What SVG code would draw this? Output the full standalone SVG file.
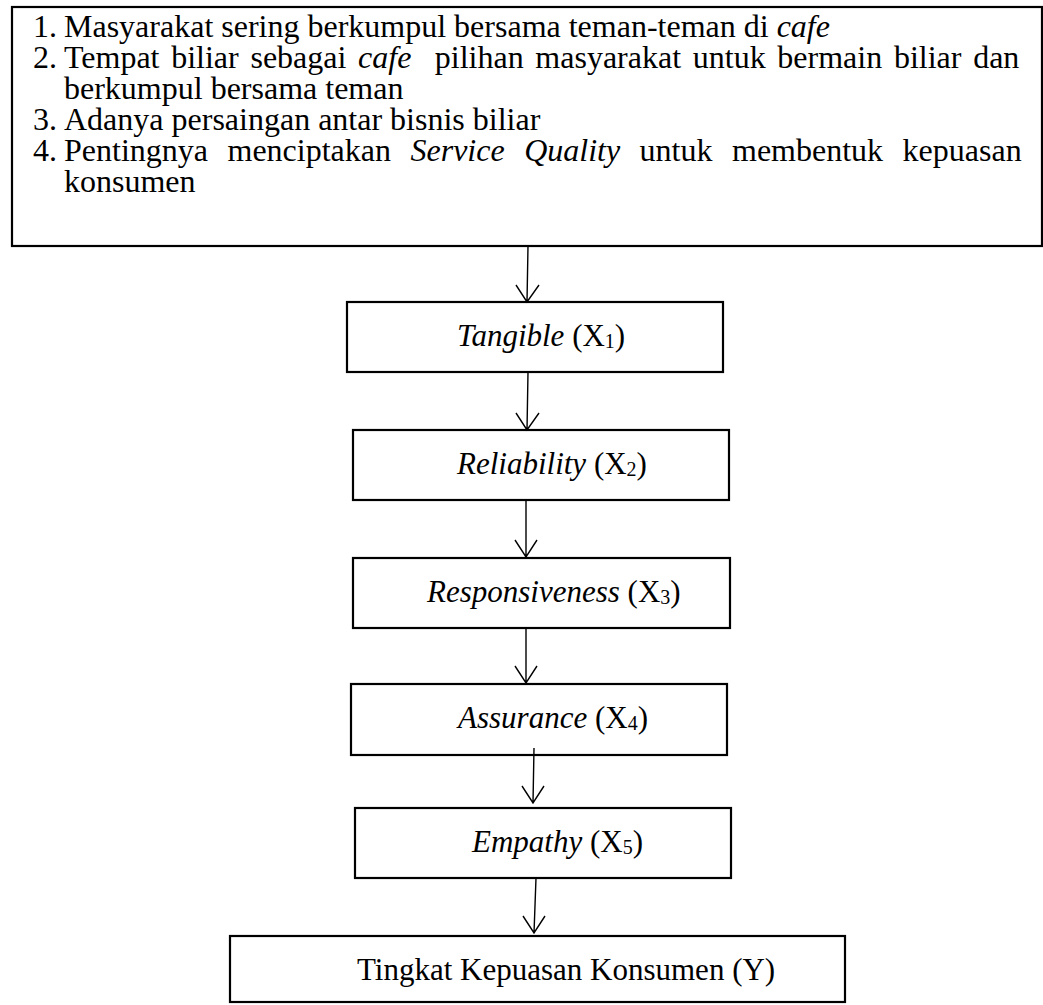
<svg xmlns="http://www.w3.org/2000/svg" width="1043" height="1005" viewBox="0 0 1043 1005">
<style>
.t{font-family:"Liberation Serif","Times New Roman",serif;font-size:31px;fill:#000}
.L{font-size:32px}
.i{font-style:italic}
.s{font-size:20px}
.box{fill:#fff;stroke:#000;stroke-width:2.2}
.ln{fill:none;stroke:#000;stroke-width:1.4}
</style>
<rect width="1043" height="1005" fill="#fff"/>
<g id="problem">
<rect class="box" x="12" y="7" width="1030" height="239"/>
<text class="t L" x="33" y="37">1.</text>
<text class="t L" x="64" y="37">Masyarakat sering berkumpul bersama teman-teman di <tspan class="i">cafe</tspan></text>
<text class="t L" x="33" y="68">2.</text>
<text class="t L" x="64" y="68" xml:space="preserve" word-spacing="3.7">Tempat biliar sebagai <tspan class="i">cafe</tspan>  pilihan masyarakat untuk bermain biliar dan</text>
<text class="t L" x="64" y="99">berkumpul bersama teman</text>
<text class="t L" x="33" y="130">3.</text>
<text class="t L" x="64" y="130">Adanya persaingan antar bisnis biliar</text>
<text class="t L" x="33" y="161">4.</text>
<text class="t L" x="64" y="161" word-spacing="11.5">Pentingnya menciptakan <tspan class="i">Service Quality</tspan> untuk membentuk kepuasan</text>
<text class="t L" x="64" y="192">konsumen</text>
</g>
<g id="x1">
<rect class="box" x="347" y="302" width="376" height="70"/>
<text class="t" x="457" y="346"><tspan class="i">Tangible</tspan> (X<tspan class="s" dy="2">1</tspan><tspan dy="-2">)</tspan></text>
</g>
<g id="x2">
<rect class="box" x="353" y="430" width="376" height="70"/>
<text class="t" x="457" y="474"><tspan class="i">Reliability</tspan> (X<tspan class="s" dy="2">2</tspan><tspan dy="-2">)</tspan></text>
</g>
<g id="x3">
<rect class="box" x="353" y="558" width="377" height="70"/>
<text class="t" x="427" y="602"><tspan class="i">Responsiveness</tspan> (X<tspan class="s" dy="2">3</tspan><tspan dy="-2">)</tspan></text>
</g>
<g id="x4">
<rect class="box" x="351" y="684" width="376" height="71"/>
<text class="t" x="458" y="728"><tspan class="i">Assurance</tspan> (X<tspan class="s" dy="2">4</tspan><tspan dy="-2">)</tspan></text>
</g>
<g id="x5">
<rect class="box" x="355" y="808" width="376" height="70"/>
<text class="t" x="472" y="852"><tspan class="i">Empathy</tspan> (X<tspan class="s" dy="2">5</tspan><tspan dy="-2">)</tspan></text>
</g>
<g id="y">
<rect class="box" x="230" y="936" width="615" height="66"/>
<text class="t" x="357" y="980">Tingkat Kepuasan Konsumen (Y)</text>
</g>
<g id="connectors">
<path class="ln" d="M528,246 L527,302 M516,285 L527,302 L539,285"/>
<path class="ln" d="M528,372 L527,430 M516,413 L527,430 L539,413"/>
<path class="ln" d="M526,500 L526,557 M515,540 L526,557 L537,540"/>
<path class="ln" d="M526,628 L526,683 M515,666 L526,683 L537,666"/>
<path class="ln" d="M534,748 L533,803 M522,786 L533,803 L544,786"/>
<path class="ln" d="M536,878 L534,933 M523,916 L534,933 L545,916"/>
</g>
</svg>
